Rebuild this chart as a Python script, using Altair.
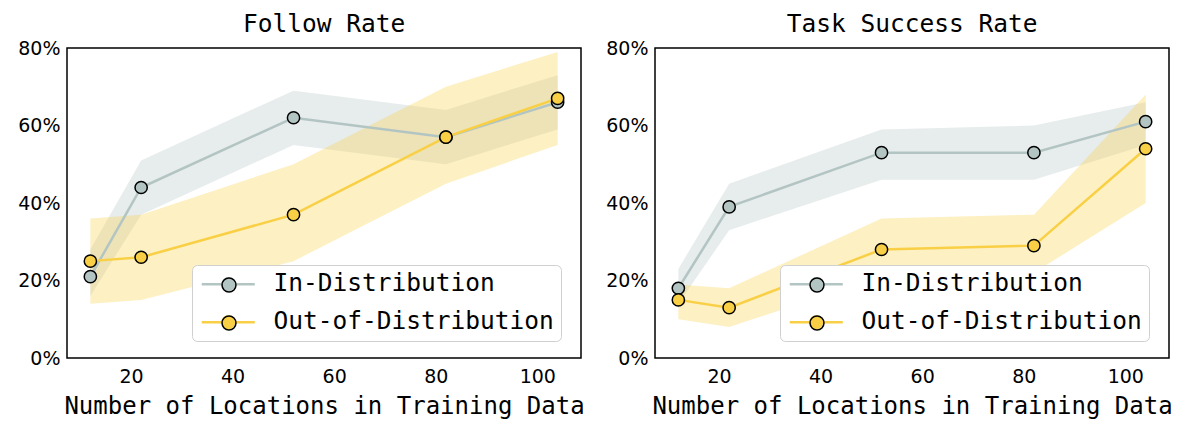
import altair as alt
import pandas as pd

# ---- data ----
x_locations = [12, 22, 52, 82, 104]
series_names = ["In-Distribution", "Out-of-Distribution"]
series_colors = ["#b3c5c3", "#f9d045"]

follow_id = [21, 44, 62, 57, 66]
follow_id_lo = [16, 37, 55, 50, 59]
follow_id_hi = [28, 51, 69, 64, 73]
follow_ood = [25, 26, 37, 57, 67]
follow_ood_lo = [14, 15, 25, 45, 55]
follow_ood_hi = [36, 37, 50, 70, 79]

task_id = [18, 39, 53, 53, 61]
task_id_lo = [14, 33, 46, 46, 55]
task_id_hi = [23, 45, 59, 60, 66]
task_ood = [15, 13, 28, 29, 54]
task_ood_lo = [10, 8, 21, 22, 40]
task_ood_hi = [19, 18, 36, 37, 68]

y_ticks = [0, 20, 40, 60, 80]
x_ticks = [20, 40, 60, 80, 100]

MONO = "DejaVu Sans Mono"
SANS = "DejaVu Sans"

# legend symbols (unit = sqrt(size)/2 = 12px): line segments drawn as thin
# filled bars plus a filled circle; a second legend adds the black ring.
R = 0.58
L = 2.21
T = 0.105
LINE_SYMBOL = (f"M{-L},{-T}L{-R+0.1},{-T}L{-R+0.1},{T}L{-L},{T}Z"
               f"M{R-0.1},{-T}L{L},{-T}L{L},{T}L{R-0.1},{T}Z"
               f"M{R},0A{R},{R} 0 1,1 {-R},0A{R},{R} 0 1,1 {R},0Z")
RING_SYMBOL = f"M{R},0A{R},{R} 0 1,1 {-R},0A{R},{R} 0 1,1 {R},0Z"


def make_frame(id_m, id_lo, id_hi, ood_m, ood_lo, ood_hi):
    rows = []
    for name, m, lo, hi in [(series_names[0], id_m, id_lo, id_hi),
                            (series_names[1], ood_m, ood_lo, ood_hi)]:
        for xi, a, b, c in zip(x_locations, m, lo, hi):
            rows.append({"x": xi, "series": name, "key_a": name, "key_b": name,
                         "mean": a, "lo": b, "hi": c})
    return pd.DataFrame(rows)


def legend_params(symbol, **kw):
    return alt.Legend(title=None, orient="none", legendX=125, legendY=217,
                      symbolType=symbol, symbolSize=576, symbolOffset=17,
                      labelFont=MONO, labelFontSize=24.5, labelLimit=600,
                      labelOffset=33, padding=7, rowPadding=13, **kw)


def panel(title, df):
    xscale = alt.Scale(domain=[7.4, 108.6], nice=False, zero=False)
    yscale = alt.Scale(domain=[0, 80], nice=False)
    xaxis = alt.Axis(values=x_ticks, title="Number of Locations in Training Data",
                     grid=False, ticks=False, domain=False, labelFont=SANS,
                     labelFontSize=19, labelColor="black", labelPadding=9,
                     titleFont=MONO, titleFontSize=24, titleFontWeight="normal",
                     titleColor="black", titlePadding=8)
    yaxis = alt.Axis(values=y_ticks, title=None, labelExpr="datum.value + '%'",
                     grid=False, ticks=False, domain=False, labelFont=SANS,
                     labelFontSize=19, labelColor="black", labelPadding=7)
    X = alt.X("x:Q", scale=xscale, axis=xaxis)
    Y = alt.Y("mean:Q", scale=yscale, axis=yaxis)
    col = alt.Color("series:N", scale=alt.Scale(domain=series_names, range=series_colors),
                    legend=None)
    base = alt.Chart(df)
    band = base.mark_area(opacity=0.32).encode(
        x=X, y=alt.Y("lo:Q", scale=yscale, axis=yaxis), y2="hi:Q", color=col)
    line = base.mark_line(strokeWidth=2.5).encode(x=X, y=Y, color=col)
    pts = base.mark_point(filled=True, size=150, stroke="black", strokeWidth=1.5,
                          opacity=1).encode(x=X, y=Y, color=col)
    key_fill = base.mark_point(filled=True, size=0, opacity=1).encode(
        x=X, y=Y,
        fill=alt.Fill("key_a:N", scale=alt.Scale(range=series_colors),
                      legend=legend_params(LINE_SYMBOL, labelColor="black",
                                           fillColor="white", strokeColor="#d0d0d0",
                                           cornerRadius=5, symbolStrokeWidth=0)))
    key_ring = base.mark_point(filled=False, size=0, opacity=1).encode(
        x=X, y=Y,
        stroke=alt.Stroke("key_b:N", scale=alt.Scale(range=["black", "black"]),
                          legend=legend_params(RING_SYMBOL, labelOpacity=0,
                                               symbolStrokeWidth=1.5,
                                               symbolFillColor="transparent")))
    return alt.layer(band, line, pts, key_fill, key_ring).properties(
        width=514, height=310,
        title=alt.TitleParams(title, font=MONO, fontSize=24.5, fontWeight="normal",
                              color="black", offset=2))


left = panel("Follow Rate", make_frame(follow_id, follow_id_lo, follow_id_hi,
                                       follow_ood, follow_ood_lo, follow_ood_hi))
right = panel("Task Success Rate", make_frame(task_id, task_id_lo, task_id_hi,
                                              task_ood, task_ood_lo, task_ood_hi))

chart = alt.hconcat(left, right, spacing=20).resolve_scale(
    color="independent", fill="independent", stroke="independent"
).resolve_legend(
    color="independent", fill="independent", stroke="independent"
).properties(
    padding={"left": 9, "top": 2, "right": 0, "bottom": 0}
).configure(background="white").configure_view(stroke="black", strokeWidth=1.5)

chart.save("out.html", embed_options={"renderer": "svg", "actions": False})
